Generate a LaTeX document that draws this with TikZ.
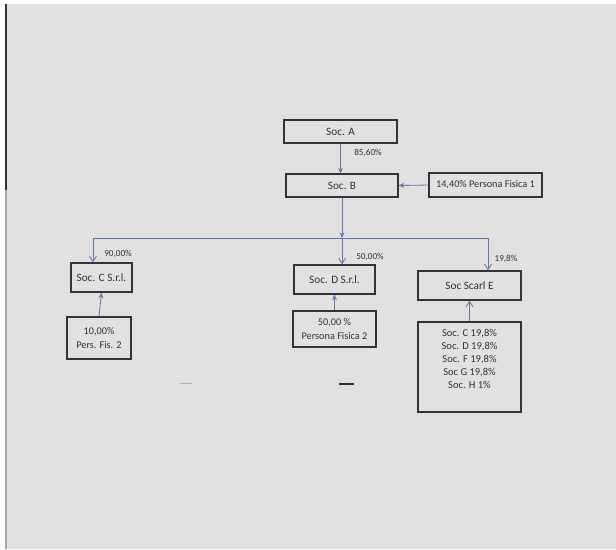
\documentclass[tikz,border=0pt]{standalone}
\usepackage{fontspec}
\setmainfont{Carlito}
\usepackage{tikz}
\usetikzlibrary{positioning,arrows.meta,calc}
\definecolor{paper}{RGB}{226,224,225}
\definecolor{inkblue}{RGB}{100,122,165}
\definecolor{inkgray}{RGB}{50,50,55}

\begin{document}
\begin{tikzpicture}[x=0.025cm, y=-0.025cm,
        sbox/.style={draw=inkgray, line width=0.8pt, align=center, inner sep=2pt,
                     font=\fontsize{8}{9.5}\selectfont, text=inkgray},
        pct/.style={font=\fontsize{6.5}{7.5}\selectfont, text=inkgray, inner sep=1pt},
        lnk/.style={draw=inkblue, line width=0.6pt},
        arr/.style={lnk, -{Stealth[length=4pt, width=3.5pt]}},
        arro/.style={lnk, -{Straight Barb[length=4pt, width=5pt]}}
    ]
    \useasboundingbox (0,0) rectangle (616,549);
    \fill[white] (0,0) rectangle (616,549);
    \fill[paper] (5,4) rectangle (616,549);
    \fill[black!80] (5,4) rectangle (7,190);
    \fill[black!35] (5,190) rectangle (6.5,549);

    \node[sbox, minimum width=2.825cm, minimum height=0.575cm] (a) at (340.5,131.5) {Soc. A};
    \node[sbox, minimum width=2.8cm, minimum height=0.575cm]   (b) at (342,185.5) {Soc. B};
    \node[sbox, minimum width=2.825cm, minimum height=0.6cm, font=\fontsize{7.3}{8.5}\selectfont] (pf1) at (485.5,185) {14,40\% Persona Fisica 1};
    \node[sbox, minimum width=1.525cm, minimum height=0.725cm] (c) at (101.5,277.5) {Soc. C S.r.l.};
    \node[sbox, minimum width=2.025cm, minimum height=0.725cm] (d) at (334.5,279.5) {Soc. D S.r.l.};
    \node[sbox, minimum width=2.575cm, minimum height=0.725cm] (e) at (469.5,285.5) {Soc Scarl E};
    \node[sbox, minimum width=1.6cm, minimum height=1.05cm, font=\fontsize{7.3}{9.3}\selectfont]  (pfc) at (99,338) {10,00\%\\Pers. Fis. 2};
    \node[sbox, minimum width=2.075cm, minimum height=0.9cm, font=\fontsize{7.3}{9.3}\selectfont] (pfd) at (334.5,329) {50,00 \%\\Persona Fisica 2};
    \node[sbox, minimum width=2.575cm, minimum height=2.25cm, font=\fontsize{7.5}{9.3}\selectfont] (soci) at (469.5,367)
        {Soc. C 19,8\%\\Soc. D 19,8\%\\Soc. F 19,8\%\\Soc G 19,8\%\\Soc. H 1\%\\[2pt]};

    \coordinate (jl) at (93,238);
    \coordinate (jn) at (342,238);
    \coordinate (jr) at (488,238);

    \draw[arr] (a.south) -- (b.north -| a.south);
    \draw[arr] (pf1.west) -- (b.east);
    \draw[arr] (b.south) -- (jn);
    \draw[lnk] (jl) -- (jr);
    \draw[arro] (jn) -- (jn |- d.north);
    \draw[arro] (jl) -- (jl |- c.north);
    \draw[arro] (jr) -- (jr |- e.north);
    \draw[arr] (pfc.north) -- (c.south);
    \draw[arr] (pfd.north) -- (d.south -| pfd.north);
    \draw[arro] (soci.north) -- (e.south);

    \node[pct] (p85) at (368,153) {85,60\%};
    \node[pct] (p90) at (118,254) {90,00\%};
    \node[pct] (p50) at (370,257) {50,00\%};
    \node[pct] (p19) at (506,259) {19,8\%};

    % stray marks on the sheet
    \draw[inkgray, line width=0.8pt] (339,384) -- (354,384);
    \draw[gray!60, line width=0.5pt] (180,383) -- (192,383);
    \end{tikzpicture}
\end{document}
